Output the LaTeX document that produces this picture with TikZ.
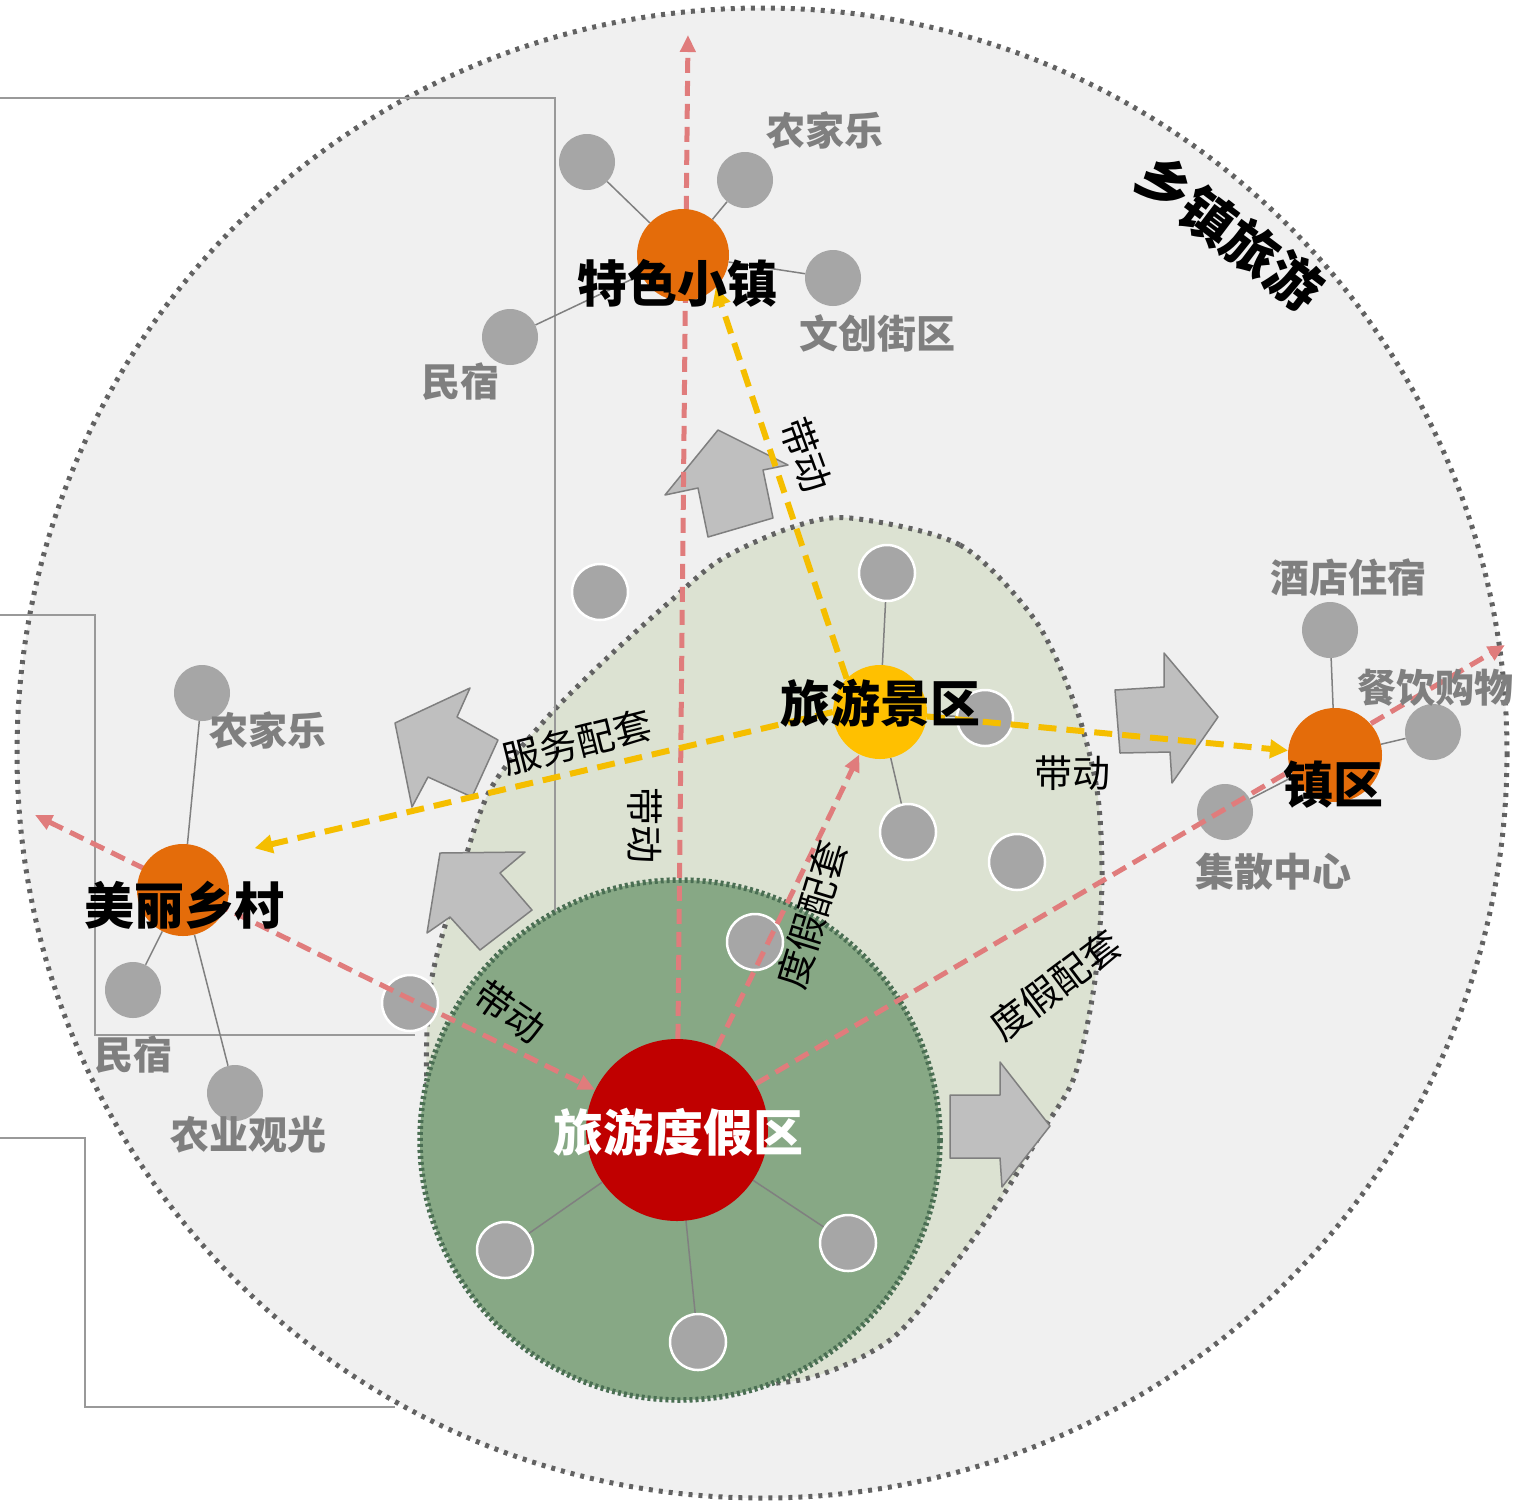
\documentclass[tikz,border=0pt]{standalone}
\usepackage{fontspec}
\setmainfont{Noto Sans CJK SC}
\usetikzlibrary{arrows.meta}

\definecolor{bgray}{HTML}{F0F0F0}
\definecolor{dotgray}{HTML}{626262}
\definecolor{lgreen}{HTML}{DCE2D2}
\definecolor{dgreen}{HTML}{87A885}
\definecolor{dgreenline}{HTML}{4A6E53}
\definecolor{resred}{HTML}{C00000}
\definecolor{orng}{HTML}{E46C0A}
\definecolor{gold}{HTML}{FFC000}
\definecolor{satgray}{HTML}{A6A6A6}
\definecolor{labgray}{HTML}{7F7F7F}
\definecolor{pinkred}{HTML}{E07C7C}
\definecolor{yelline}{HTML}{F5BE00}
\definecolor{arrfill}{HTML}{BFBFBF}
\definecolor{arrline}{HTML}{7F7F7F}

\begin{document}
\begin{tikzpicture}[
  x=1pt, y=-1pt,
  redtip/.tip={Triangle[length=17pt,width=15pt]},
  yeltip/.tip={Triangle[length=18pt,width=18pt]},
  zone/.style={line width=5pt, draw=dotgray, dash pattern=on 4pt off 6pt},
  boxline/.style={draw=gray!80, line width=1.5pt},
  blockarr/.style={fill=arrfill, draw=arrline, line width=1.5pt, line join=round},
  sat/.style={circle, fill=satgray, minimum size=56pt, inner sep=0pt},
  satw/.style={sat, draw=white, line width=2.5pt},
  hub/.style={circle, minimum size=92pt, inner sep=0pt},
  spoke/.style={draw=gray, line width=1.5pt},
  redarr/.style={draw=pinkred, line width=5pt, dash pattern=on 15pt off 8pt, -redtip},
  yelarr/.style={draw=yelline, line width=6pt, dash pattern=on 18pt off 10pt, -yeltip},
  hubtext/.style={font=\fontsize{50}{54}\selectfont\bfseries, text=black},
  labtext/.style={font=\fontsize{39}{42}\selectfont\bfseries, text=labgray},
  flowtext/.style={font=\fontsize{38}{41}\selectfont, text=black}
]
\useasboundingbox (0,0) rectangle (1522,1500);

% zones
\draw[zone, fill=bgray] (762,753) circle (745);
\draw[zone, fill=lgreen] plot[smooth cycle] coordinates {
  (850,518) (960,545) (1035,620) (1075,705) (1097,790) (1102,880)
  (1095,980) (1075,1075) (1043,1130) (1000,1200) (950,1270) (890,1340)
  (800,1380) (680,1380) (560,1330) (470,1240) (430,1120) (430,990)
  (459,880) (490,790) (545,720) (605,660) (666,605) (720,560) (790,528)};

% frame lines on the left
\draw[boxline] (0,98) -- (555,98) -- (555,1035);
\draw[boxline] (0,615) -- (95,615) -- (95,1035) -- (415,1035);
\draw[boxline] (0,1138) -- (85,1138) -- (85,1407) -- (395,1407);

\draw[fill=dgreen, draw=dgreenline, line width=5.5pt, dash pattern=on 3pt off 3pt]
  (680,1140) circle (260);

% block arrows
\draw[blockarr] (718,430) -- (788,465) -- (763,470) -- (773,518) -- (708,537) -- (698,488) -- (665,495) -- cycle;
\draw[blockarr] (395,723) -- (470,688) -- (457,717) -- (498,740) -- (472,797) -- (428,777) -- (412,807) -- cycle;
\draw[blockarr] (440,853) -- (525,852) -- (500,873) -- (532,910) -- (480,950) -- (450,917) -- (427,933) -- cycle;
\draw[blockarr] (1218,717) -- (1164,653) -- (1164,687) -- (1115,690) -- (1120,753) -- (1170,752) -- (1172,783) -- cycle;
\draw[blockarr] (1050,1126) -- (1000,1062) -- (1000,1095) -- (950,1095) -- (950,1158) -- (1000,1158) -- (1002,1187) -- cycle;

% hubs
\node[hub, minimum size=182pt] (resort) at (677,1130) {};
\node[hub, minimum size=94pt] (scenic) at (880,712) {};
\node[hub] (town) at (683,255) {};
\node[hub] (village) at (183,890) {};
\node[hub, minimum size=94pt] (zhen) at (1335,755) {};

% satellites
\node[sat] (t1) at (587,162) {};
\node[sat] (t2) at (745,180) {};
\node[sat] (t3) at (833,278) {};
\node[sat] (t4) at (510,337) {};
\node[satw] (s1) at (887,573) {};
\node[satw] (s2) at (985,718) {};
\node[satw] (s3) at (908,832) {};
\node[satw] (s4) at (1017,862) {};
\node[satw] (s5) at (600,592) {};
\node[sat] (z1) at (1330,630) {};
\node[sat] (z2) at (1433,732) {};
\node[sat] (z3) at (1225,812) {};
\node[sat] (v1) at (202,693) {};
\node[sat] (v2) at (133,990) {};
\node[sat] (v3) at (235,1093) {};
\node[satw] (mid) at (410,1003) {};
\node[satw] (r1) at (505,1250) {};
\node[satw] (r2) at (848,1243) {};
\node[satw] (r3) at (698,1342) {};
\node[satw] (r4) at (755,942) {};

\foreach \s in {t1,t2,t3,t4} \draw[spoke] (town) -- (\s);
\foreach \s in {s1,s2,s3} \draw[spoke] (scenic) -- (\s);
\foreach \s in {z1,z2,z3} \draw[spoke] (zhen) -- (\s);
\foreach \s in {v1,v2,v3} \draw[spoke] (village) -- (\s);
\foreach \s in {r1,r2,r3} \draw[spoke] (resort) -- (\s);

% flows
\coordinate (north-end) at (688,35);
\coordinate (west-end) at (35,815);
\coordinate (east-end) at (1505,645);
\draw[redarr] (resort) -- (north-end);
\draw[redarr, redtip-redtip] (west-end) -- (resort);
\draw[redarr] (resort) -- (scenic);
\draw[redarr] (resort) -- (east-end);
\draw[yelarr] (scenic.north west) -- (town.south east);
\draw[yelarr, shorten >=40pt] (scenic.west) -- (village.north east);
\draw[yelarr] (scenic) -- (zhen);

% hub discs over the flows
\foreach \h/\c/\r in {resort/resred/91, scenic/gold/47, town/orng/46, village/orng/46, zhen/orng/47}
  \fill[\c] (\h) circle (\r);

% texts
\node[hubtext] (town-t) at (677,283) {特色小镇};
\node[hubtext] (village-t) at (184,905) {美丽乡村};
\node[hubtext] (zhen-t) at (1333,785) {镇区};
\node[hubtext] (scenic-t) at (880,703) {旅游景区};
\node[hubtext, text=white] (resort-t) at (678,1132) {旅游度假区};
\node[font=\fontsize{54}{58}\selectfont\bfseries, rotate=-37] (title) at (1230,232) {乡镇旅游};

\node[labtext] (t2-l) at (825,130) {农家乐};
\node[labtext] (t3-l) at (877,333) {文创街区};
\node[labtext] (t4-l) at (460,382) {民宿};
\node[labtext] (z1-l) at (1348,577) {酒店住宿};
\node[labtext] (z2-l) at (1435,688) {餐饮购物};
\node[labtext] (z3-l) at (1273,872) {集散中心};
\node[labtext] (v1-l) at (268,730) {农家乐};
\node[labtext] (v2-l) at (133,1055) {民宿};
\node[labtext] (v3-l) at (248,1135) {农业观光};

\node[flowtext, rotate=-70] (f1) at (806,455) {带动};
\node[flowtext, rotate=14] (f2) at (577,742) {服务配套};
\node[flowtext] (f3) at (1072,773) {带动};
\node[flowtext, rotate=-90] (f4) at (645,825) {带动};
\node[flowtext, rotate=73] (f5) at (812,915) {度假配套};
\node[flowtext, rotate=37] (f6) at (1055,985) {度假配套};
\node[flowtext, rotate=-35] (f7) at (510,1012) {带动};
\end{tikzpicture}
\end{document}
